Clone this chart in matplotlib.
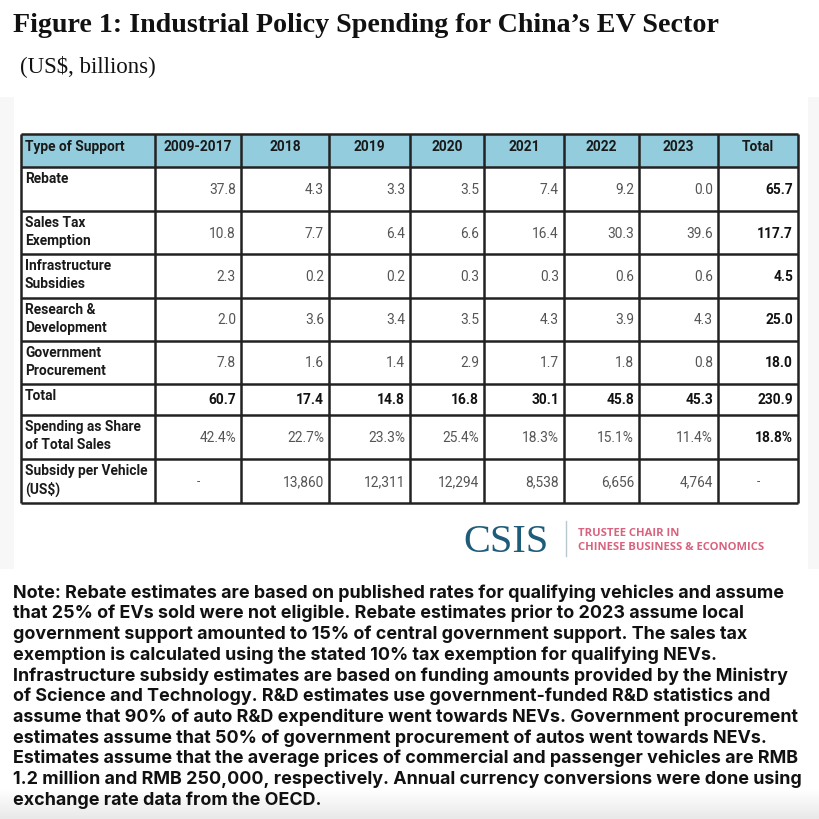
import matplotlib
matplotlib.use("Agg")
import matplotlib.pyplot as plt
from matplotlib.patches import Rectangle
import numpy as np

plt.rcParams["text.parse_math"] = False

# ---- data ----
columns = ["Type of Support", "2009-2017", "2018", "2019", "2020", "2021", "2022", "2023", "Total"]
row_labels = [
    "Rebate",
    "Sales Tax\nExemption",
    "Infrastructure\nSubsidies",
    "Research &\nDevelopment",
    "Government\nProcurement",
    "Total",
    "Spending as Share\nof Total Sales",
    "Subsidy per Vehicle\n(US$)",
]
rebate = [37.8, 4.3, 3.3, 3.5, 7.4, 9.2, 0.0, 65.7]
sales_tax = [10.8, 7.7, 6.4, 6.6, 16.4, 30.3, 39.6, 117.7]
infrastructure = [2.3, 0.2, 0.2, 0.3, 0.3, 0.6, 0.6, 4.5]
research = [2.0, 3.6, 3.4, 3.5, 4.3, 3.9, 4.3, 25.0]
procurement = [7.8, 1.6, 1.4, 2.9, 1.7, 1.8, 0.8, 18.0]
total = [60.7, 17.4, 14.8, 16.8, 30.1, 45.8, 45.3, 230.9]
share_of_sales = [42.4, 22.7, 23.3, 25.4, 18.3, 15.1, 11.4, 18.8]
per_vehicle = [None, 13860, 12311, 12294, 8538, 6656, 4764, None]

title = "Figure 1: Industrial Policy Spending for China\u2019s EV Sector"
subtitle = "(US$, billions)"
note_lines = [
    "Note: Rebate estimates are based on published rates for qualifying vehicles and assume",
    "that 25% of EVs sold were not eligible. Rebate estimates prior to 2023 assume local",
    "government support amounted to 15% of central government support. The sales tax",
    "exemption is calculated using the stated 10% tax exemption for qualifying NEVs.",
    "Infrastructure subsidy estimates are based on funding amounts provided by the Ministry",
    "of Science and Technology. R&D estimates use government-funded R&D statistics and",
    "assume that 90% of auto R&D expenditure went towards NEVs. Government procurement",
    "estimates assume that 50% of government procurement of autos went towards NEVs.",
    "Estimates assume that the average prices of commercial and passenger vehicles are RMB",
    "1.2 million and RMB 250,000, respectively. Annual currency conversions were done using",
    "exchange rate data from the OECD.",
]

# ---- layout (pixel coordinates on an 820x820 canvas) ----
col_edges = [21, 155, 241, 329, 410, 484, 564, 639, 718, 798]
row_edges = [135, 168, 212, 255, 299, 342, 385, 416, 460, 504]
HEADER_BG = "#93cddd"
LINE = "#222222"
VALUE_GREY = "#555555"
TABLE_FONT = "Roboto"
FS = 9.9


def fmt_row(values, kind):
    out = []
    for v in values:
        if v is None:
            out.append("-")
        elif kind == "pct":
            out.append(f"{v:.1f}%")
        elif kind == "int":
            out.append(f"{v:,}")
        else:
            out.append(f"{v:.1f}")
    return out


table_rows = [
    (fmt_row(rebate, "f"), False),
    (fmt_row(sales_tax, "f"), False),
    (fmt_row(infrastructure, "f"), False),
    (fmt_row(research, "f"), False),
    (fmt_row(procurement, "f"), False),
    (fmt_row(total, "f"), True),
    (fmt_row(share_of_sales, "pct"), False),
    (fmt_row(per_vehicle, "int"), False),
]

fig = plt.figure(figsize=(8.2, 8.2), dpi=100)
fig.patch.set_facecolor("white")
ax = fig.add_axes([0, 0, 1, 1])
ax.set_xlim(0, 820)
ax.set_ylim(820, 0)
ax.axis("off")

# faint screenshot frame around the table block
ax.add_patch(Rectangle((0, 98), 14, 472, facecolor="#f7f7f7", edgecolor="none"))
ax.add_patch(Rectangle((808, 98), 12, 472, facecolor="#f7f7f7", edgecolor="none"))
# soft grey fade at the bottom edge
grad = np.linspace(0, 1, 50).reshape(-1, 1)
ax.imshow(grad, extent=(0, 820, 820, 790), cmap=matplotlib.colors.LinearSegmentedColormap.from_list(
    "fade", ["#ffffff", "#e9e9e9"]), aspect="auto", zorder=0)

# titles
ax.text(13, 26, title, fontsize=20.2, fontweight="bold", family="Liberation Serif",
        va="center", ha="left", color="#111111")
ax.text(20, 66, subtitle, fontsize=16.5, family="Liberation Serif",
        va="center", ha="left", color="#111111")

# header row
top, bot = row_edges[0], row_edges[1]
ax.add_patch(Rectangle((col_edges[0], top), col_edges[-1] - col_edges[0], bot - top,
                       facecolor=HEADER_BG, edgecolor="none"))
for j, name in enumerate(columns):
    if j == 0:
        ax.text(col_edges[0] + 4, top + 12, name, fontsize=FS, fontweight="bold",
                family=TABLE_FONT, ha="left", va="center", color="#1a1a1a")
    else:
        cx = (col_edges[j] + col_edges[j + 1]) / 2
        ax.text(cx, top + 12, name, fontsize=FS, fontweight="bold",
                family=TABLE_FONT, ha="center", va="center", color="#1a1a1a")

# body rows
for i, (label, (cells, bold_row)) in enumerate(zip(row_labels, table_rows)):
    top, bot = row_edges[i + 1], row_edges[i + 2]
    for k, line in enumerate(label.split("\n")):
        ax.text(col_edges[0] + 4, top + 11 + 18 * k, line, fontsize=FS, fontweight="bold",
                family=TABLE_FONT, ha="left", va="center", color="#1a1a1a")
    cy = (top + bot) / 2
    for j, txt in enumerate(cells):
        is_total_col = j == len(cells) - 1
        bold = bold_row or is_total_col
        color = "#111111" if bold else VALUE_GREY
        if txt == "-":
            ax.text((col_edges[j + 1] + col_edges[j + 2]) / 2, cy, txt, fontsize=8.5,
                    family=TABLE_FONT, ha="center", va="center", color=VALUE_GREY)
        else:
            ax.text(col_edges[j + 2] - 5, cy, txt, fontsize=FS,
                    fontweight="bold" if bold else "normal",
                    family=TABLE_FONT, ha="right", va="center", color=color)

# grid lines
for x in col_edges:
    ax.plot([x, x], [row_edges[0], row_edges[-1]], color=LINE, lw=1.8, solid_capstyle="butt")
for y in row_edges:
    ax.plot([col_edges[0], col_edges[-1]], [y, y], color=LINE, lw=1.8, solid_capstyle="butt")

# CSIS logo
ax.text(463, 543, "CSIS", fontsize=29, family="Liberation Serif", color="#1f5c7a",
        ha="left", va="center")
ax.plot([566, 566], [522, 557], color="#b9c7cf", lw=1)
ax.text(578, 534, "TRUSTEE CHAIR IN", fontsize=8.1, fontweight="bold", family="Open Sans",
        color="#d9637f", ha="left", va="center")
ax.text(578, 548, "CHINESE BUSINESS & ECONOMICS", fontsize=8.1, fontweight="bold",
        family="Open Sans", color="#d9637f", ha="left", va="center")

# note
for k, line in enumerate(note_lines):
    ax.text(13, 593 + 20.7 * k, line, fontsize=12.9, fontweight="bold", family="Inter",
            ha="left", va="center", color="#111111")

fig.savefig("out.png", dpi=100, facecolor=fig.get_facecolor())
